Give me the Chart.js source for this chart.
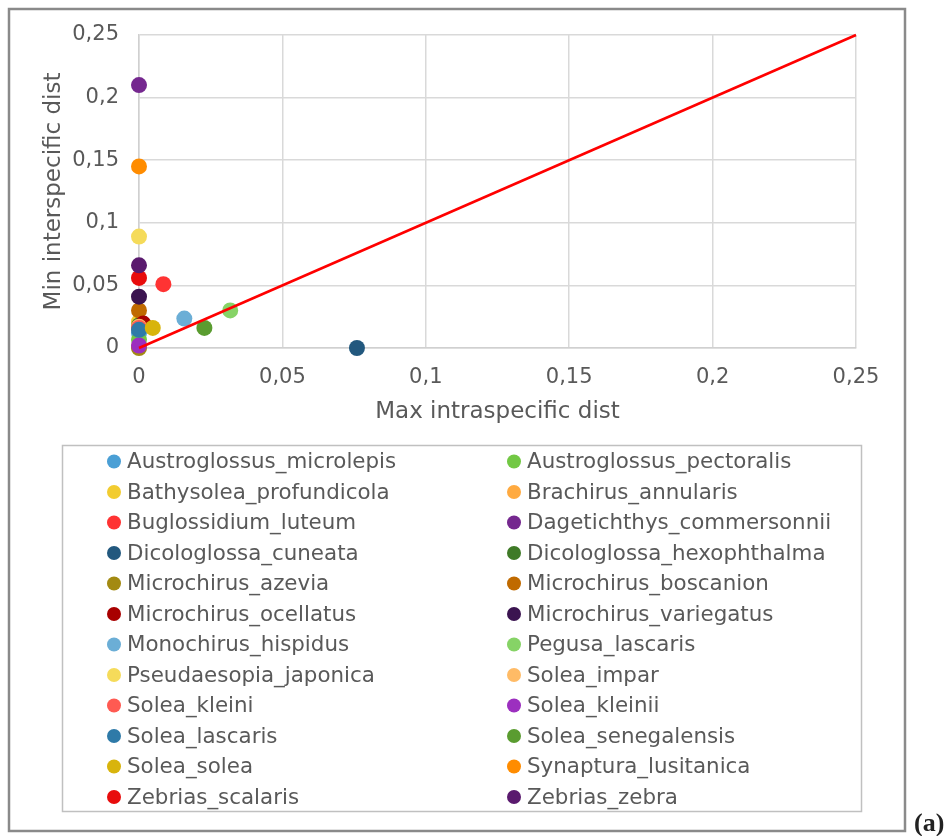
<!DOCTYPE html>
<html><head><meta charset="utf-8">
<script src="https://cdn.jsdelivr.net/npm/chart.js@4/dist/chart.umd.min.js"></script>
<style>html,body{margin:0;padding:0;background:#fff}#wrap{position:relative;width:948px;height:836px}</style>
</head><body><div id="wrap"><canvas id="c"></canvas></div>
<script>
const species = ["Austroglossus_microlepis","Austroglossus_pectoralis","Bathysolea_profundicola","Brachirus_annularis","Buglossidium_luteum","Dagetichthys_commersonnii","Dicologlossa_cuneata","Dicologlossa_hexophthalma","Microchirus_azevia","Microchirus_boscanion","Microchirus_ocellatus","Microchirus_variegatus","Monochirus_hispidus","Pegusa_lascaris","Pseudaesopia_japonica","Solea_impar","Solea_kleini","Solea_kleinii","Solea_lascaris","Solea_senegalensis","Solea_solea","Synaptura_lusitanica","Zebrias_scalaris","Zebrias_zebra"];
const speciesColors = ["#4a9fd5","#72c844","#f2cc30","#ffaa40","#ff3333","#75288f","#22587e","#3f7a27","#a38a12","#c06a00","#a80000","#3b1450","#6baed6","#86d366","#f5db5a","#ffbb66","#ff5a52","#9c2fbf","#2e7aa8","#5a9c30","#d8b40c","#ff8c00","#e80c0c","#5a1a6e"];
const maxIntraDist = [0,0,0,0,0.0085,0,0.076,0,0,0,0.0015,0,0.0158,0.0318,0,0,0,0,0,0.0228,0.0048,0,0,0];
const minInterDist = [0.012,0.0065,0.021,0.001,0.051,0.21,0,0.018,0,0.030,0.0195,0.041,0.0235,0.030,0.089,0.017,0.016,0.002,0.0145,0.016,0.016,0.145,0.056,0.066];
const thresholdX = [0, 0.25];
const thresholdY = [0, 0.25];
const xTickValues = [0,0.05,0.1,0.15,0.2,0.25];
const yTickValues = [0,0.05,0.1,0.15,0.2,0.25];
const xTitle = "Max intraspecific dist";
const yTitle = "Min interspecific dist";
const panelLabel = "(a)";

const FONT = "'DejaVu Sans', sans-serif";
const TXT = "#595959";
const fmt = v => String(parseFloat(Number(v).toFixed(2))).replace('.', ',');

const datasets = species.map((name, i) => ({
  type: 'scatter',
  label: name,
  data: [{x: maxIntraDist[i], y: minInterDist[i]}],
  backgroundColor: speciesColors[i],
  borderColor: speciesColors[i],
  borderWidth: 0,
  pointRadius: 8,
  pointHoverRadius: 8,
  clip: false,
  order: 100 - i
}));
datasets.push({
  type: 'line',
  label: 'threshold',
  data: thresholdX.map((x, i) => ({x, y: thresholdY[i]})),
  borderColor: '#ff0000',
  borderWidth: 2.5,
  pointRadius: 0,
  fill: false,
  clip: false,
  order: 0
});

const decor = {
  id: 'decor',
  beforeDraw(chart) {
    const ctx = chart.ctx;
    ctx.save();
    ctx.fillStyle = '#fff';
    ctx.fillRect(0, 0, chart.width, chart.height);
    ctx.restore();
  },
  afterDraw(chart) {
    const ctx = chart.ctx;
    ctx.save();
    ctx.strokeStyle = '#8a8a8a';
    ctx.lineWidth = 2.5;
    ctx.strokeRect(9, 9, 896, 822);
    ctx.strokeStyle = '#c0c0c0';
    ctx.lineWidth = 1.5;
    ctx.strokeRect(62.5, 445.5, 799, 366);
    ctx.font = "21.4px " + FONT;
    ctx.textBaseline = 'middle';
    ctx.textAlign = 'left';
    species.forEach((name, i) => {
      const col = i % 2, row = Math.floor(i / 2);
      const y = 461.5 + row * 30.5;
      const dx = col === 0 ? 114 : 514;
      ctx.fillStyle = speciesColors[i];
      ctx.beginPath();
      ctx.arc(dx, y, 7, 0, Math.PI * 2);
      ctx.fill();
      ctx.fillStyle = TXT;
      ctx.fillText(name, dx + 13, y + 1);
    });
    ctx.fillStyle = '#222';
    ctx.font = "bold 26px 'Liberation Serif', serif";
    ctx.textBaseline = 'alphabetic';
    ctx.fillText(panelLabel, 914, 831);
    ctx.restore();
  }
};

new Chart(document.getElementById('c'), {
  data: { datasets },
  options: {
    responsive: true,
    maintainAspectRatio: false,
    animation: false,
    devicePixelRatio: 1,
    layout: { padding: { left: 30, top: 35, right: 92, bottom: 406 } },
    plugins: { legend: { display: false }, tooltip: { enabled: false } },
    scales: {
      x: {
        type: 'linear', min: 0, max: 0.25,
        afterBuildTicks: s => { s.ticks = xTickValues.map(v => ({value: v})); },
        afterFit: s => { s.height = 82; },
        ticks: { color: TXT, font: { family: FONT, size: 21 }, padding: 17, callback: fmt, maxRotation: 0 },
        grid: { color: '#d9d9d9', lineWidth: 1.5, drawTicks: false },
        border: { color: '#d0d0d0', width: 1.5 },
        title: { display: true, text: xTitle, color: TXT, font: { family: FONT, size: 23 }, padding: { top: 4, bottom: 4 } }
      },
      y: {
        type: 'linear', min: 0, max: 0.25,
        afterBuildTicks: s => { s.ticks = yTickValues.map(v => ({value: v})); },
        afterFit: s => { s.width = 109; },
        ticks: { color: TXT, font: { family: FONT, size: 21 }, padding: 20, callback: fmt },
        grid: { color: '#d9d9d9', lineWidth: 1.5, drawTicks: false },
        border: { color: '#d0d0d0', width: 1.5 },
        title: { display: true, text: yTitle, color: TXT, font: { family: FONT, size: 23 }, padding: { top: 10, bottom: 4 } }
      }
    }
  },
  plugins: [decor]
});
</script></body></html>
